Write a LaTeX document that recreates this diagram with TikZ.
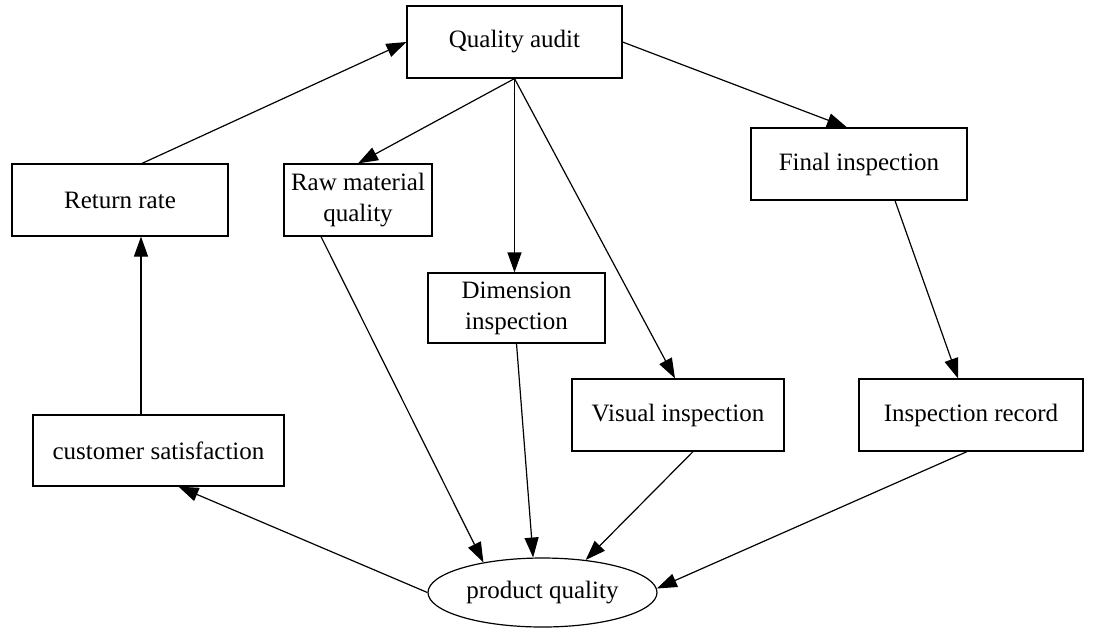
\documentclass[tikz,border=0pt]{standalone}
\usepackage{fontspec}
\setmainfont{Liberation Serif}
\usetikzlibrary{arrows.meta,shapes.geometric}

\begin{document}
\begin{tikzpicture}[x=0.5pt,y=-0.5pt,
    box/.style={draw,line width=0.6pt,inner sep=0pt,align=center,
      minimum height=36pt,font=\fontsize{12.5}{15.5}\selectfont},
    oval/.style={box,ellipse},
    link/.style={-{Triangle[length=10pt,width=7pt]},line width=0.6pt}]
  \useasboundingbox (0,0) rectangle (1102,628);

  % caixas de cima
  \node[box,minimum width=107.5pt] (audit) at (514.5,42) {Quality audit};
  \node[box,minimum width=108pt] (ret) at (120,200) {Return rate};
  \node[box,minimum width=74pt] (raw) at (358,200) {Raw material\\quality};
  \node[box,minimum width=108pt] (fin) at (859,164) {Final inspection};
  \node[box,minimum width=88.5pt,minimum height=35pt] (dim) at (516.5,308)
    {Dimension\\inspection};

  % caixas de baixo
  \node[box,minimum width=106pt] (vis) at (678,415) {Visual inspection};
  \node[box,minimum width=112pt] (rec) at (971,415) {Inspection record};
  \node[box,minimum width=125.5pt,minimum height=35.5pt] (cus) at (158.5,450.5)
    {customer satisfaction};
  \node[oval,minimum width=114.5pt,minimum height=34.5pt] (prod) at (542.5,592.5)
    {product quality};

  % ligacoes
  \draw[link] ([xshift=11pt]ret.north) -- (audit.west);
  \draw[link] (audit.south) -- (raw.north);
  \draw[link] (audit.south) -- (audit.south |- dim.north);
  \draw[link] (audit.south) -- ([xshift=-1.5pt]vis.north);
  \draw[link] (audit.east) -- ([xshift=-6pt]fin.north);
  \draw[link] ([xshift=18pt]fin.south) -- ([xshift=-6.5pt]rec.north);
  \draw[link] ([xshift=-18.5pt]raw.south) -- (prod.153.6);
  \draw[link] (dim.south) -- (prod.105);
  \draw[link] ([xshift=7.5pt]vis.south) -- (prod.37.6);
  \draw[link] ([xshift=-2pt]rec.south) -- (prod.2.8);
  \draw[link] (prod.west) -- ([xshift=10pt]cus.south);
  \draw[link] ([xshift=-8.75pt]cus.north) -- ([xshift=-8.75pt]cus.north |- ret.south);
\end{tikzpicture}
\end{document}
